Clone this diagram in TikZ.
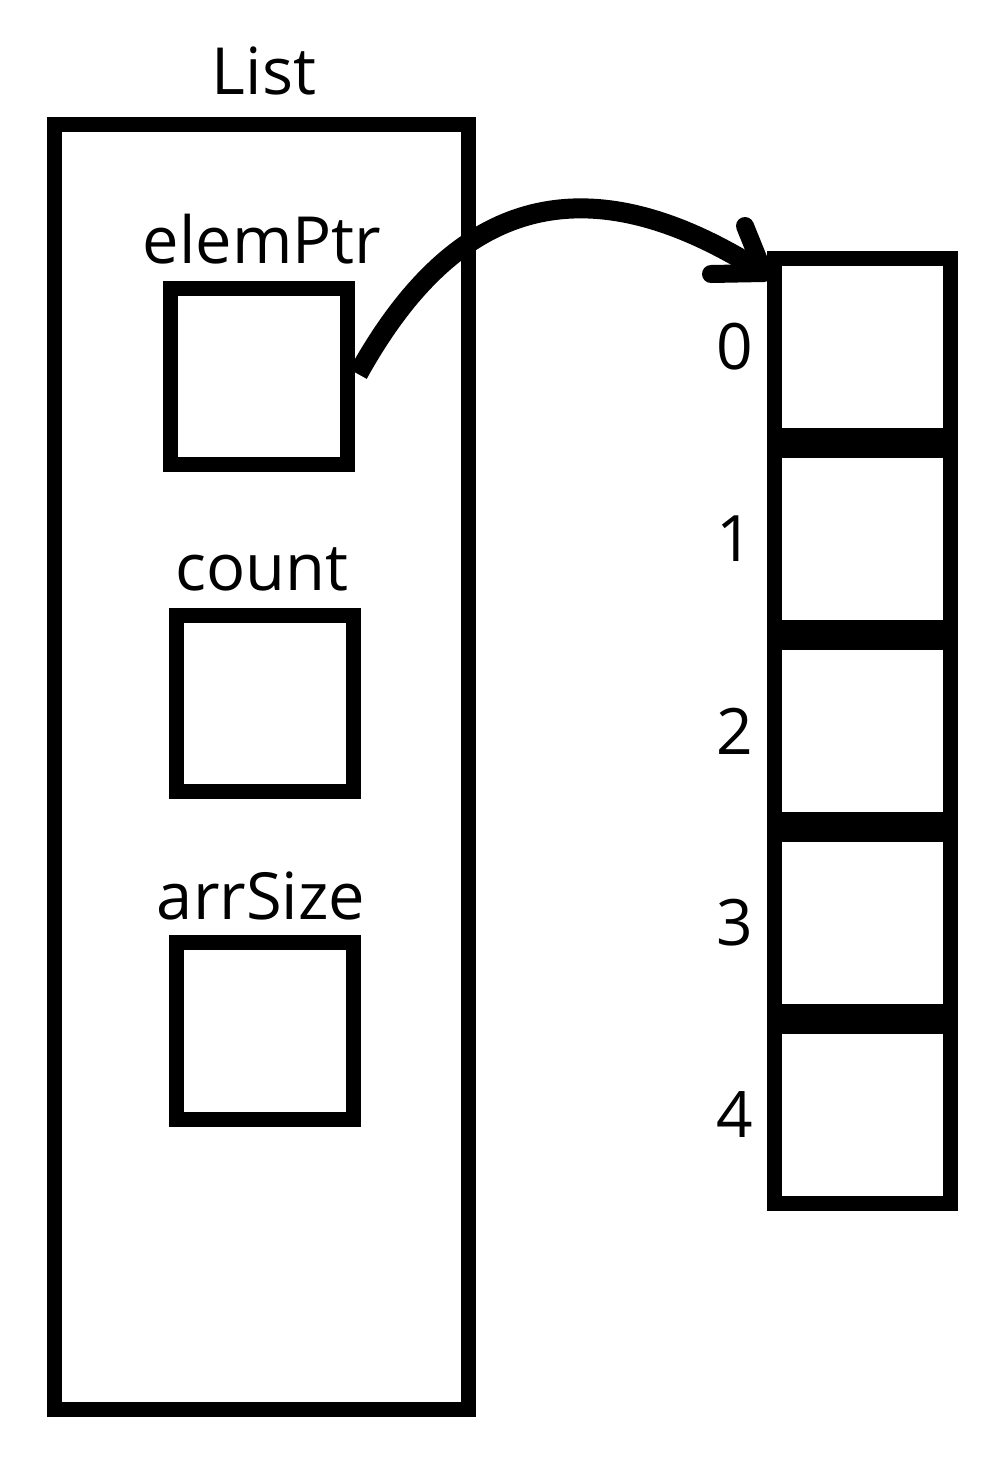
\documentclass[tikz,border=0pt]{standalone}
\usepackage{fontspec}
\setmainfont{Open Sans}
\usetikzlibrary{calc}
\begin{document}
\begin{tikzpicture}[x=1pt,y=-1pt,
  lbl/.style={font=\fontsize{65}{78}\selectfont, inner sep=0pt, anchor=base},
  idx/.style={font=\fontsize{64}{77}\selectfont, inner sep=0pt, anchor=center},
  field/.style={draw=black, line width=15pt, rectangle, inner sep=0pt,
    minimum width=177pt, minimum height=176.5pt},
  cell/.style={draw=black, line width=15pt, rectangle, inner sep=0pt,
    minimum width=176.5pt, minimum height=177pt},
  outer/.style={draw=black, line width=15pt, rectangle, inner sep=0pt},
  ptrline/.style={line width=20pt, line cap=butt},
  barb/.style={line width=18pt, line cap=round, line join=round}]
\useasboundingbox (0,0) rectangle (1005,1462);
% List container
\node[outer, minimum width=414pt, minimum height=1284.5pt] (list) at (261,766.75) {};
\node[lbl] (listlbl) at (264,94) {List};
% fields
\node[field] (ptr) at (259,376.5) {};
\node[field] (cnt) at (264.5,703.25) {};
\node[field] (size) at (264.5,1030.75) {};
\node[lbl] (ptrlbl) at (262,263) {elemPtr};
\node[lbl] (cntlbl) at (262,590) {count};
\node[lbl] (sizelbl) at (261,919) {arrSize};
% array cells
\foreach \k in {0,...,4}{
  \node[cell] (c\k) at (862.25,347+192*\k) {};
  \node[idx] (i\k) at (735,347+192*\k) {\k};
}
% pointer arrow
\coordinate (ptrout) at (358,374);
\coordinate (tip) at (764,273);
\draw[ptrline] (ptrout) .. controls (442,222) and (565,145) .. (tip);
\draw[barb] ($(tip)+(-19,-47)$) -- (tip) -- ($(tip)+(-53,1)$);
\end{tikzpicture}
\end{document}
